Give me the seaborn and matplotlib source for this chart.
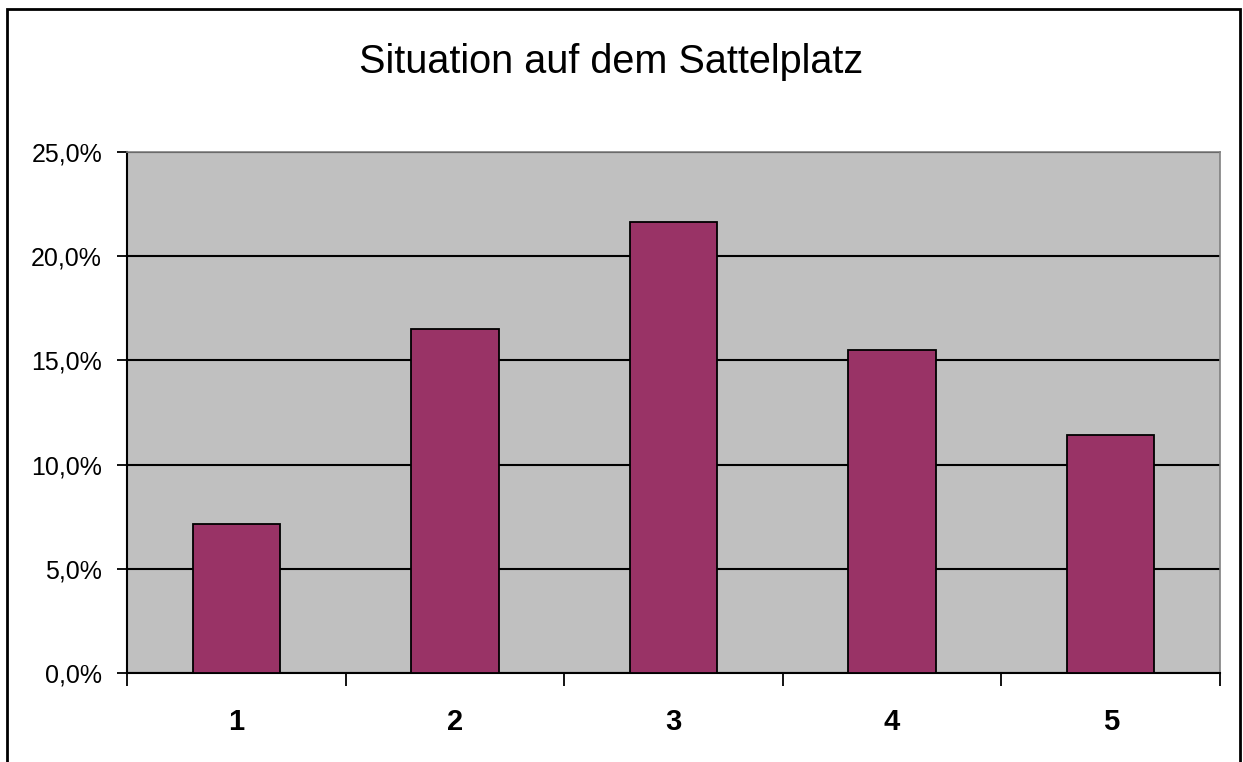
import matplotlib
matplotlib.use("Agg")
import matplotlib.pyplot as plt
import matplotlib.patches as mpatches
from matplotlib.ticker import FuncFormatter, FixedLocator
import seaborn as sns
import pandas as pd

categories = ["1", "2", "3", "4", "5"]
values = [7.15, 16.5, 21.65, 15.5, 11.4]
y_ticks = [0, 5, 10, 15, 20, 25]
title = "Situation auf dem Sattelplatz"

sns.set_theme(style="white")
plt.rcParams['font.family'] = ['Liberation Sans', 'DejaVu Sans']
plt.rcParams['text.color'] = 'black'
plt.rcParams['xtick.color'] = 'black'
plt.rcParams['ytick.color'] = 'black'
plt.rcParams['axes.labelcolor'] = 'black'

df = pd.DataFrame({"cat": categories, "val": values})

W, H = 1243, 762
fig = plt.figure(figsize=(W / 100, H / 100), dpi=100)
ax = fig.add_axes([127 / W, 1 - 673 / H, (1220 - 127) / W, (673 - 152) / H])
ax.set_facecolor("#C0C0C0")

sns.barplot(data=df, x="cat", y="val", color="#993366", width=0.4,
            edgecolor="black", linewidth=1.3, saturation=1, ax=ax, zorder=3)

ax.set_ylim(0, 25)
ax.set_xlim(-0.5, len(categories) - 0.5)
ax.yaxis.set_major_locator(FixedLocator(y_ticks))
ax.yaxis.set_major_formatter(FuncFormatter(lambda v, p: f"{v:.1f}".replace(".", ",") + "%"))
ax.grid(axis="y", color="black", linewidth=1.5, zorder=1)
ax.set_axisbelow(True)
ax.set_xlabel("")
ax.set_ylabel("")

ax.tick_params(axis="y", which="major", direction="out", length=7.5, width=1.3,
               color="black", labelcolor="black", labelsize=18, pad=10.5, left=True)
ax.tick_params(axis="x", which="major", length=0, labelsize=21, pad=25,
               labelcolor="black")
for lbl in ax.get_xticklabels():
    lbl.set_fontweight("bold")
ax.set_xticks([i - 0.5 for i in range(len(categories) + 1)], minor=True)
ax.tick_params(axis="x", which="minor", direction="out", length=9, width=1.3,
               color="black", bottom=True)

for side in ["left", "bottom"]:
    ax.spines[side].set_color("black")
    ax.spines[side].set_linewidth(1.5)
for side in ["top", "right"]:
    ax.spines[side].set_visible(True)
    ax.spines[side].set_color("#808080")
    ax.spines[side].set_linewidth(1.2)

fig.text(611 / W, 1 - 62 / H, title, ha="center", va="center", fontsize=28.5,
         color="black")

border = mpatches.Rectangle((7 / W, -0.1), (1240 - 7) / W, 1.1 - 9 / H,
                            transform=fig.transFigure, fill=False,
                            edgecolor="black", linewidth=2, clip_on=False)
fig.patches.append(border)

fig.savefig("out.png", dpi=100, facecolor="white")
